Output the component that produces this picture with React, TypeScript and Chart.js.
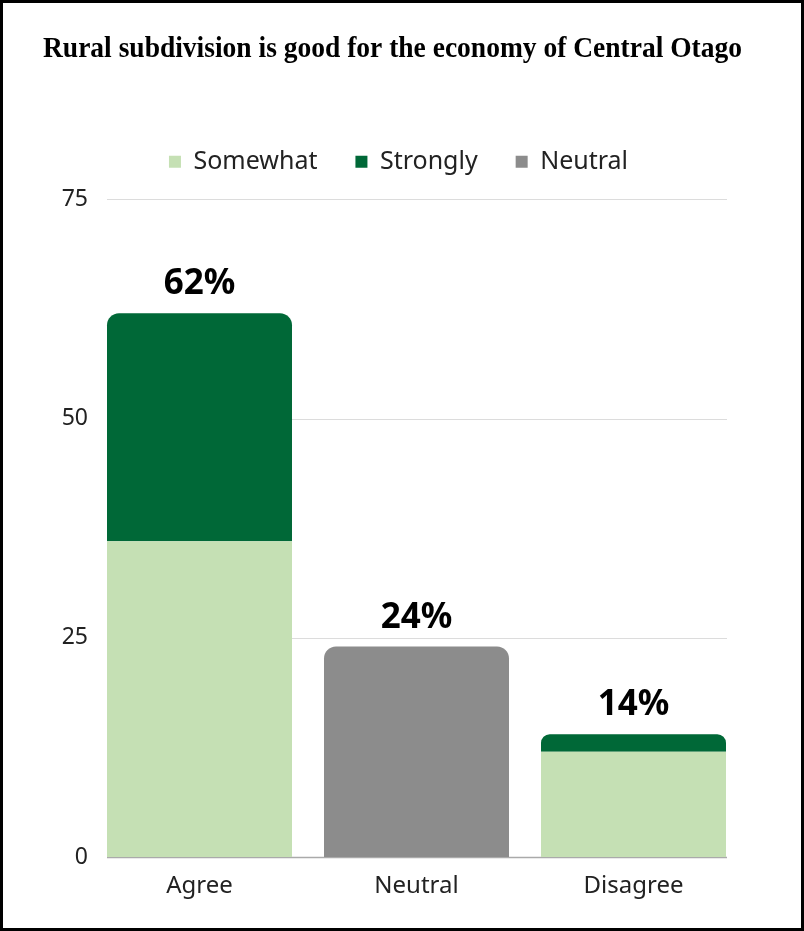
import React, { useEffect, useRef } from "react";
import { Chart, registerables } from "chart.js";

Chart.register(...registerables);

const TITLE = "Rural subdivision is good for the economy of Central Otago";
const categories = ["Agree", "Neutral", "Disagree"];
const somewhat = [36, null, 12];
const strongly = [26, null, 2];
const neutral = [null, 24, null];
const yTicks = [0, 25, 50, 75];

const COLORS = { somewhat: "#c5e0b4", strongly: "#006837", neutral: "#8c8c8c" };
const SANS = "'Noto Sans', 'Open Sans', sans-serif";
const GRID_INSET_L = 16;
const GRID_INSET_R = 15;
const LEGEND_SHIFT = 6;

const customGrid = {
  id: "customGrid",
  beforeDatasetsDraw(chart: any) {
    const { ctx, scales, chartArea } = chart;
    const x0 = chartArea.left + GRID_INSET_L;
    const x1 = chartArea.right - GRID_INSET_R;
    ctx.save();
    yTicks.forEach((v) => {
      const y = Math.round(scales.y.getPixelForValue(v)) + 0.5;
      ctx.beginPath();
      ctx.strokeStyle = v === 0 ? "#aaaaaa" : "#dcdcdc";
      ctx.lineWidth = v === 0 ? 1.5 : 1;
      ctx.moveTo(x0, y);
      ctx.lineTo(x1, y);
      ctx.stroke();
    });
    ctx.restore();
  },
};

const legendShift = {
  id: "legendShift",
  afterLayout(chart: any) {
    if (chart.legend) {
      chart.legend.left += LEGEND_SHIFT;
      chart.legend.right += LEGEND_SHIFT;
    }
  },
};

const totalLabels = {
  id: "totalLabels",
  afterDatasetsDraw(chart: any) {
    const { ctx, scales } = chart;
    ctx.save();
    ctx.font = `bold 35px ${SANS}`;
    ctx.fillStyle = "#000";
    ctx.textAlign = "center";
    ctx.textBaseline = "alphabetic";
    categories.forEach((_, i) => {
      const total = [somewhat[i], strongly[i], neutral[i]].reduce((a: number, v) => a + (v ?? 0), 0);
      const x = scales.x.getPixelForValue(i);
      const y = scales.y.getPixelForValue(total);
      ctx.fillText(`${total}%`, x, y - 19);
    });
    ctx.restore();
  },
};

export default function App() {
  const ref = useRef<HTMLCanvasElement>(null);
  useEffect(() => {
    document.body.style.margin = "0";
    const top = { topLeft: 12, topRight: 12, bottomLeft: 0, bottomRight: 0 };
    const chart = new Chart(ref.current!, {
      type: "bar",
      data: {
        labels: categories,
        datasets: [
          { label: "Somewhat", data: somewhat, backgroundColor: COLORS.somewhat, borderRadius: 0, borderSkipped: false },
          { label: "Strongly", data: strongly, backgroundColor: COLORS.strongly, borderRadius: top, borderSkipped: false },
          { label: "Neutral", data: neutral, backgroundColor: COLORS.neutral, borderRadius: top, borderSkipped: false },
        ] as any,
      },
      options: {
        animation: false,
        responsive: false,
        maintainAspectRatio: false,
        layout: { padding: { left: 40, right: 59, top: 0, bottom: 16 } },
        datasets: { bar: { categoryPercentage: 1, barPercentage: 0.8525 } },
        plugins: {
          title: {
            display: true,
            text: TITLE,
            color: "#000",
            font: { family: "'Liberation Serif', 'Times New Roman', serif", size: 28.6, weight: "bold" },
            padding: { top: 29, bottom: 45 },
          },
          legend: {
            display: true,
            labels: {
              boxWidth: 12,
              boxHeight: 12,
              padding: 38,
              color: "#222",
              font: { family: SANS, size: 25 },
            },
          },
          tooltip: { enabled: false },
        },
        scales: {
          x: {
            stacked: true,
            grid: { display: false, drawTicks: false },
            border: { display: false },
            ticks: { color: "#222", font: { family: SANS, size: 24 }, padding: 15 },
            afterFit: (s: any) => { s.height = 55; },
          },
          xTopSpacer: {
            type: "category",
            position: "top",
            display: true,
            grid: { display: false, drawTicks: false },
            border: { display: false },
            ticks: { display: false },
            afterFit: (s: any) => { s.height = 15; },
          },
          y: {
            stacked: true,
            min: 0,
            max: 75,
            afterBuildTicks: (s: any) => { s.ticks = yTicks.map((v) => ({ value: v })); },
            grid: { display: false, drawTicks: false },
            border: { display: false },
            ticks: { color: "#222", font: { family: SANS, size: 23 }, padding: 3 },
            afterFit: (s: any) => { s.width = 48; },
          },
        } as any,
      },
      plugins: [customGrid, totalLabels, legendShift],
    });
    return () => chart.destroy();
  }, []);
  return (
    <div
      style={{
        position: "absolute",
        left: 0,
        top: 0,
        width: 804,
        height: 931,
        boxSizing: "border-box",
        border: "3px solid #000",
        background: "#fff",
      }}
    >
      <canvas ref={ref} width={798} height={925} style={{ display: "block", width: 798, height: 925 }} />
    </div>
  );
}
